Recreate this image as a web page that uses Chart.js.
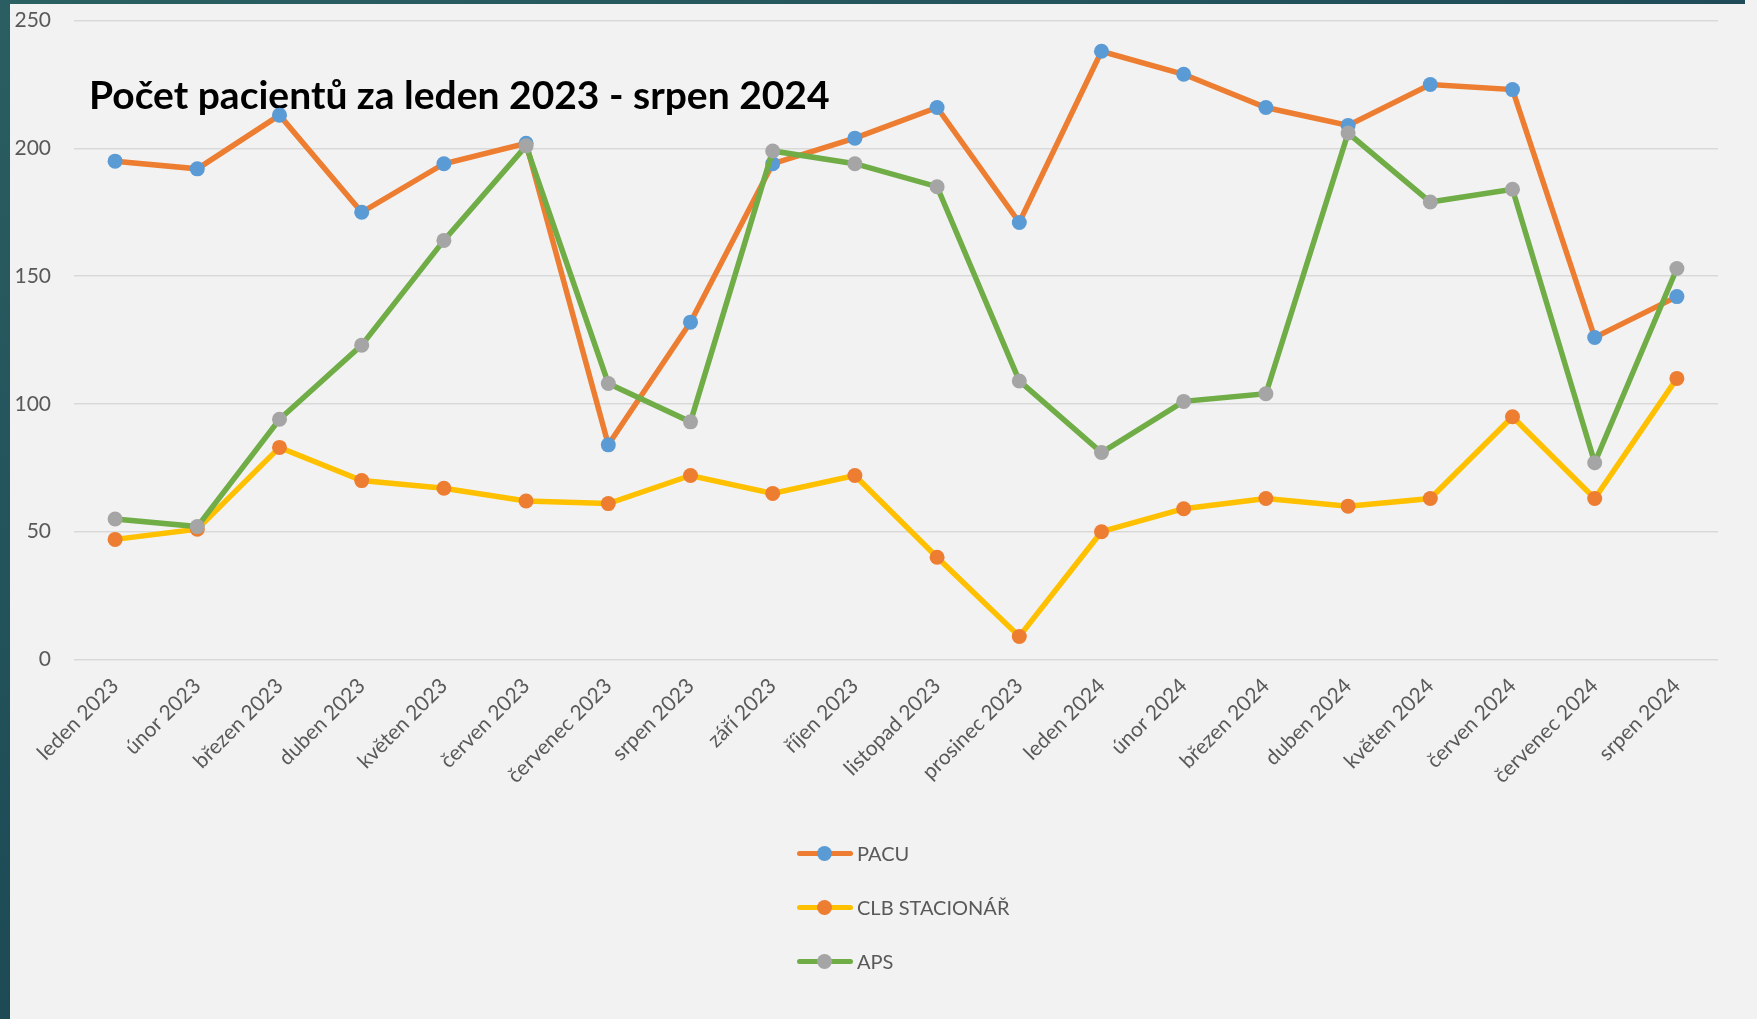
<!DOCTYPE html>
<html lang="cs">
<head>
<meta charset="utf-8">
<title>Počet pacientů</title>
<script src="https://cdn.jsdelivr.net/npm/chart.js@4.4.1/dist/chart.umd.min.js"></script>
<style>
  html, body { margin: 0; padding: 0; background: #f2f2f2; overflow: hidden; }
  #wrap { position: relative; width: 1757px; height: 1019px; background: #f2f2f2; overflow: hidden; }
  #topbar { position: absolute; left: 0; top: 0; width: 1745px; height: 4px;
    background: linear-gradient(90deg, #2b6163, #1f4c58); }
  #leftbar { position: absolute; left: 0; top: 0; width: 10px; height: 1019px;
    background: linear-gradient(180deg, #2a5e62, #1d4a55); }
  canvas { position: absolute; left: 0; top: -15px; }
  #legend { position: absolute; left: 797px; top: 826px; font-family: Lato, sans-serif;
    font-size: 20px; color: #595959; }
  .row { height: 54px; display: flex; align-items: center; }
  .mark { position: relative; width: 56px; height: 15px; margin-right: 4px; }
  .mark .ln { position: absolute; left: 0; right: 0; top: 5px; height: 5px; border-radius: 3px; }
  .mark .dot { position: absolute; left: 20px; top: 0; width: 15px; height: 15px; border-radius: 50%; }
</style>
</head>
<body>
<div id="wrap">
  <canvas id="chart" width="1757" height="1034"></canvas>
  <div id="topbar"></div>
  <div id="leftbar"></div>
  <div id="legend"></div>
</div>
<script>
// měsíce a počty pacientů
const mesice = ['leden 2023', 'únor 2023', 'březen 2023', 'duben 2023', 'květen 2023', 'červen 2023',
  'červenec 2023', 'srpen 2023', 'září 2023', 'říjen 2023', 'listopad 2023', 'prosinec 2023',
  'leden 2024', 'únor 2024', 'březen 2024', 'duben 2024', 'květen 2024', 'červen 2024',
  'červenec 2024', 'srpen 2024'];
const pacu = [195, 192, 213, 175, 194, 202, 84, 132, 194, 204, 216, 171, 238, 229, 216, 209, 225, 223, 126, 142];
const clbStacionar = [47, 51, 83, 70, 67, 62, 61, 72, 65, 72, 40, 9, 50, 59, 63, 60, 63, 95, 63, 110];
const aps = [55, 52, 94, 123, 164, 201, 108, 93, 199, 194, 185, 109, 81, 101, 104, 206, 179, 184, 77, 153];
const yTicks = [0, 50, 100, 150, 200, 250];
const nadpis = 'Počet pacientů za leden 2023 - srpen 2024';

const serie = [
  { label: 'PACU', data: pacu, line: '#ED7D31', point: '#5B9BD5', order: 3 },
  { label: 'CLB STACIONÁŘ', data: clbStacionar, line: '#FFC000', point: '#ED7D31', order: 2 },
  { label: 'APS', data: aps, line: '#70AD47', point: '#A5A5A5', order: 1 },
];

// nadpis je uvnitř plochy grafu (canvas je posunutý o 15 px nahoru)
const titlePlugin = {
  id: 'insideTitle',
  beforeDatasetsDraw(chart) {
    const ctx = chart.ctx;
    ctx.save();
    ctx.font = 'bold 39px Lato, sans-serif';
    ctx.fillStyle = '#000000';
    ctx.textBaseline = 'alphabetic';
    ctx.fillText(nadpis, 89, 124);
    ctx.restore();
  }
};

const config = {
  type: 'line',
  data: {
    labels: mesice,
    datasets: serie.map(s => ({
      label: s.label,
      data: s.data,
      borderColor: s.line,
      backgroundColor: s.point,
      borderWidth: 5.5,
      pointRadius: 7.5,
      pointBorderWidth: 0,
      pointBackgroundColor: s.point,
      pointBorderColor: s.point,
      tension: 0,
      order: s.order,
    })),
  },
  options: {
    responsive: false,
    animation: false,
    layout: { padding: { left: 0, right: 39, top: 19.5, bottom: 0 } },
    scales: {
      x: {
        offset: true,
        grid: { display: false, drawTicks: false },
        border: { display: false },
        ticks: {
          autoSkip: false,
          minRotation: 45,
          maxRotation: 45,
          padding: 14,
          color: '#595959',
          font: { family: 'Lato', size: 21 },
        },
        afterFit: s => { s.height = 359.5; },
      },
      y: {
        min: 0,
        max: 250,
        afterBuildTicks: s => { s.ticks = yTicks.map(v => ({ value: v })); },
        grid: { color: '#d9d9d9', lineWidth: 1.5, drawTicks: false },
        border: { display: false },
        ticks: {
          padding: 23,
          color: '#595959',
          font: { family: 'Lato', size: 21 },
        },
        afterFit: s => { s.width = 74; },
      },
    },
    plugins: {
      legend: { display: false },
      title: { display: false },
      tooltip: { enabled: false },
    },
  },
  plugins: [titlePlugin],
};

const chart = new Chart(document.getElementById('chart').getContext('2d'), config);

// legenda pod grafem
const legend = document.getElementById('legend');
chart.data.datasets.forEach(ds => {
  const row = document.createElement('div');
  row.className = 'row';
  row.innerHTML = '<span class="mark"><span class="ln" style="background:' + ds.borderColor +
    '"></span><span class="dot" style="background:' + ds.pointBackgroundColor + '"></span></span>' +
    '<span>' + ds.label + '</span>';
  legend.appendChild(row);
});
</script>
</body>
</html>
